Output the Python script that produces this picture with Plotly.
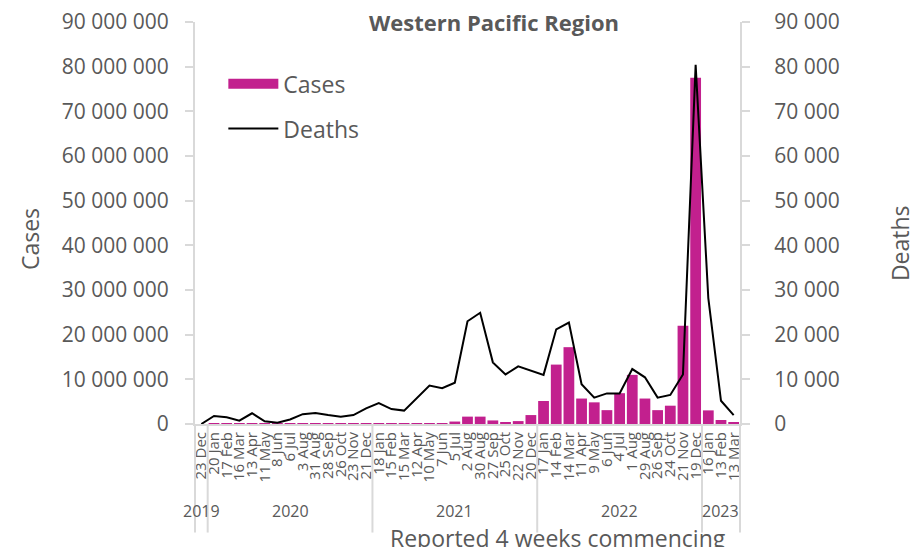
import plotly.graph_objects as go

period_labels = ["23 Dec", "20 Jan", "17 Feb", "16 Mar", "13 Apr", "11 May", "8 Jun", "6 Jul",
                 "3 Aug", "31 Aug", "28 Sep", "26 Oct", "23 Nov", "21 Dec", "18 Jan", "15 Feb",
                 "15 Mar", "12 Apr", "10 May", "7 Jun", "5 Jul", "2 Aug", "30 Aug", "27 Sep",
                 "25 Oct", "22 Nov", "20 Dec", "17 Jan", "14 Feb", "14 Mar", "11 Apr", "9 May",
                 "6 Jun", "4 Jul", "1 Aug", "29 Aug", "26 Sep", "24 Oct", "21 Nov", "19 Dec",
                 "16 Jan", "13 Feb", "13 Mar"]
period_years = ["2019"] + ["2020"] * 13 + ["2021"] * 13 + ["2022"] * 13 + ["2023"] * 3

cases = [0, 10000, 20000, 15000, 30000, 10000, 8000, 15000, 30000, 40000, 30000, 25000, 30000,
         50000, 80000, 40000, 40000, 200000, 200000, 100000, 550000, 1650000, 1650000, 800000,
         450000, 650000, 2000000, 5150000, 13300000, 17200000, 5700000, 4850000, 3100000,
         6900000, 11000000, 5700000, 3100000, 4100000, 22000000, 77500000, 3050000, 900000, 400000]

deaths = [0, 1800, 1500, 750, 2400, 600, 300, 1000, 2200, 2450, 2000, 1650, 2000, 3500, 4700,
          3350, 3000, 5700, 8600, 8000, 9250, 23000, 24900, 13800, 11100, 12900, 12000, 11000,
          21200, 22700, 8900, 5900, 6850, 6850, 12300, 10450, 5900, 6500, 11100, 80400, 28200,
          5200, 2000]

FONT = "Open Sans"
GREY = "#595959"
AXIS = "#d9d9d9"
MAGENTA = "#C2208E"

n = len(period_labels)
idx = list(range(n))

# the page body adds an 8px offset, so the figure is 8px smaller than the window
W, H = 915, 539
PL, PR, PT, PB = 187, 183, 14, 123

fig = go.Figure()
fig.add_trace(go.Bar(x=idx, y=cases, name="Cases", marker=dict(color=MAGENTA, line=dict(width=0)),
                     showlegend=False))
fig.add_trace(go.Scatter(x=[None], y=[None], mode="lines", name="Cases", legendgroup="c",
                         line=dict(color=MAGENTA, width=12)))
fig.add_trace(go.Scatter(x=idx, y=deaths, name="Deaths", mode="lines", yaxis="y2", legendgroup="d",
                         line=dict(color="black", width=2)))

# year group labels and dividers
years = []
for y in period_years:
    if y not in years:
        years.append(y)
annotations = []
shapes = []
bounds = [-0.5]
for y in years:
    members = [i for i, v in enumerate(period_years) if v == y]
    center = (members[0] + members[-1]) / 2
    annotations.append(dict(text=y, x=(center + 0.5) / n, xref="paper", y=-0.216, yref="paper",
                            showarrow=False, font=dict(size=16, color=GREY),
                            xanchor="center", yanchor="middle"))
    bounds.append(members[-1] + 0.5)
for b in bounds:
    shapes.append(dict(type="line", xref="paper", yref="paper", x0=(b + 0.5) / n, x1=(b + 0.5) / n,
                       y0=0, y1=-0.27, line=dict(color=AXIS, width=2)))

annotations.append(dict(text="Reported 4 weeks commencing", x=0.666, xref="paper", y=-0.283,
                        yref="paper", showarrow=False, font=dict(size=23, color=GREY),
                        xanchor="center", yanchor="middle"))
annotations.append(dict(text="Cases", x=(30 - 195) / 545, xref="paper", y=0.46, yref="paper",
                        showarrow=False, textangle=-90, font=dict(size=23, color=GREY),
                        xanchor="center", yanchor="middle"))
annotations.append(dict(text="Deaths", x=(900 - 195) / 545, xref="paper", y=0.45, yref="paper",
                        showarrow=False, textangle=-90, font=dict(size=23, color=GREY),
                        xanchor="center", yanchor="middle"))

fig.update_layout(
    width=W, height=H,
    margin=dict(l=PL, r=PR, t=PT, b=PB, autoexpand=False),
    paper_bgcolor="white", plot_bgcolor="white",
    separators=". ",
    font=dict(family=FONT, color=GREY),
    title=dict(text="<b>Western Pacific Region</b>", x=(494 - 8) / W, xanchor="center",
               y=1 - (23 - 8) / H, yref="container", yanchor="middle",
               font=dict(size=22, color=GREY)),
    bargap=0.15,
    showlegend=True,
    legend=dict(x=0.052, y=0.90, xanchor="left", yanchor="top", bgcolor="rgba(0,0,0,0)",
                font=dict(size=23, color=GREY), itemwidth=50, tracegroupgap=12),
    xaxis=dict(range=[-0.5, n - 0.5], tickmode="array", tickvals=idx, ticktext=period_labels,
               tickangle=-90, tickfont=dict(size=15, color=GREY), automargin=False,
               showline=True, linecolor=AXIS, linewidth=2, showgrid=False, ticks="",
               zeroline=False),
    yaxis=dict(range=[0, 90000000], dtick=10000000, tickformat=",d", showgrid=False,
               showline=True, linecolor=AXIS, linewidth=2, ticks="outside", ticklen=8,
               tickcolor=AXIS, tickwidth=2, tickfont=dict(size=21, color=GREY),
               ticklabelstandoff=12, ticklabeloverflow="allow", automargin=False, zeroline=False),
    yaxis2=dict(range=[0, 90000], dtick=10000, tickformat=",d", overlaying="y", side="right",
                showgrid=False, showline=True, linecolor=AXIS, linewidth=2, ticks="outside",
                ticklen=8, tickcolor=AXIS, tickwidth=2, tickfont=dict(size=21, color=GREY),
                ticklabelstandoff=20, ticklabeloverflow="allow", automargin=False, zeroline=False),
    annotations=annotations,
    shapes=shapes,
)

fig.write_html("out.html")
